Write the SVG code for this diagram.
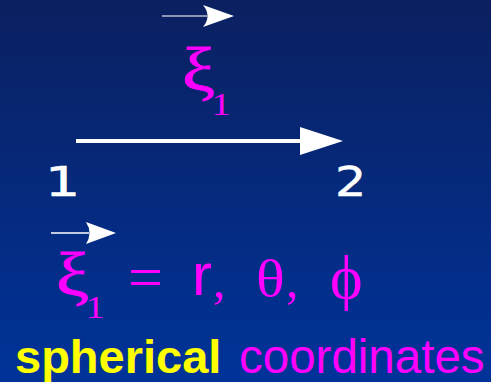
<svg xmlns="http://www.w3.org/2000/svg" width="491" height="382" viewBox="0 0 491 382">
<defs>
<linearGradient id="bg" x1="0" y1="0" x2="0" y2="1">
<stop offset="0" stop-color="#0b2060"/>
<stop offset="1" stop-color="#003399"/>
</linearGradient>
</defs>
<style>
.serif{font-family:"Liberation Serif","Times New Roman",serif;fill:#ff00ff}
.xi{stroke:#ff00ff;stroke-width:0.8}
.sub{stroke:none;font-size:32px}
.sans{font-family:"Liberation Sans",Arial,sans-serif}
.num{font-family:"DejaVu Sans",sans-serif;fill:#ffffff;font-size:41px;stroke:#ffffff;stroke-width:0.5}
.head{fill:#ffffff}
</style>
<rect x="0" y="0" width="491" height="382" fill="url(#bg)"/>
<g id="connectors">
<g id="vec-top">
<line x1="162" y1="16" x2="207" y2="16" stroke="#b8bed6" stroke-width="1.5"/>
<path class="head" d="M234,16 L203,5 Q212,16 203,27 Z"/>
</g>
<g id="edge-1-2">
<line x1="76" y1="141" x2="302" y2="141" stroke="#ffffff" stroke-width="4"/>
<path class="head" d="M343,141 L300,127 L300,155 Z"/>
</g>
<g id="vec-eq">
<line x1="51" y1="233" x2="89" y2="233" stroke="#ffffff" stroke-width="1.5"/>
<path class="head" d="M116,233 L86,222 Q93,233 86,244 Z"/>
</g>
</g>
<g id="label-xi">
<text class="serif xi" x="182" y="90" font-size="62" transform="translate(182 0) scale(1.2 1) translate(-182 0)">ξ<tspan class="sub" dx="-3" dy="25">1</tspan></text>
</g>
<g id="node-1">
<text class="num" x="45" y="196" transform="translate(45 0) scale(1.35 1) translate(-45 0)">1</text>
</g>
<g id="node-2">
<text class="num" x="335" y="196" transform="translate(335 0) scale(1.2 1) translate(-335 0)">2</text>
</g>
<g id="equation">
<text class="serif xi" x="56" y="295" font-size="62" transform="translate(56 0) scale(1.2 1) translate(-56 0)">ξ<tspan class="sub" dx="-3" dy="23">1</tspan></text>
<text class="serif" x="128" y="298" font-size="62">=</text>
<text class="sans" x="192" y="295" font-size="60" fill="#ff00ff">r</text>
<text class="serif" x="213" y="297" font-size="50">,</text>
<text class="serif" x="256" y="296" font-size="53" transform="translate(256 0) scale(1.13 1) translate(-256 0)">θ</text>
<text class="serif" x="286" y="297" font-size="50">,</text>
<text class="serif" x="330" y="298" font-size="62">ϕ</text>
</g>
<g id="caption">
<text class="sans" x="15" y="373" font-size="47" font-weight="bold" fill="#ffff00">spherical</text>
<text class="sans" x="239" y="373" font-size="47.5" fill="#ff00ff">coordinates</text>
</g>
</svg>
